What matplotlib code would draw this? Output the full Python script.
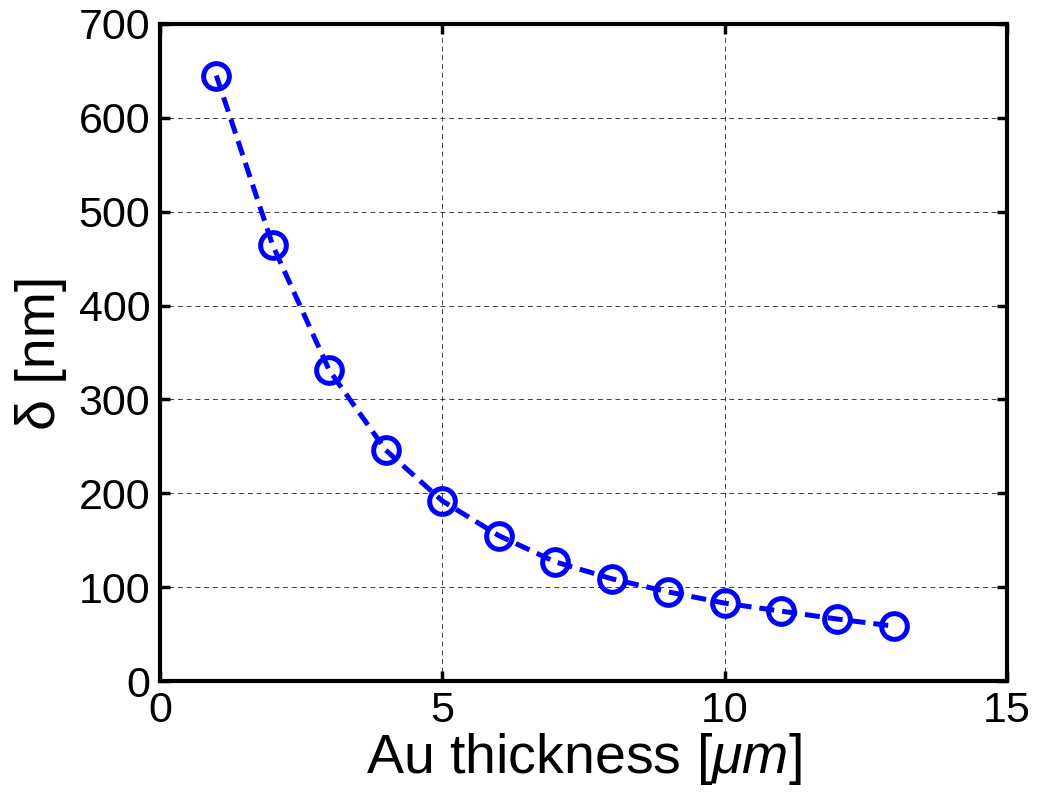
import matplotlib.pyplot as plt

plt.rcParams['font.family'] = ['Liberation Sans', 'DejaVu Sans']
plt.rcParams['mathtext.fontset'] = 'custom'
plt.rcParams['mathtext.it'] = 'Liberation Sans:italic'
plt.rcParams['mathtext.rm'] = 'Liberation Sans'

# Au thickness [um] vs delta [nm]
thickness = [1, 2, 3, 4, 5, 6, 7, 8, 9, 10, 11, 12, 13]
delta = [645, 464, 331, 246, 192, 155, 127, 109, 95, 83, 74.5, 66, 58.5]

x_ticks = [0, 5, 10, 15]
y_ticks = [0, 100, 200, 300, 400, 500, 600, 700]

fig = plt.figure(figsize=(10.38, 7.97), dpi=100)
ax = fig.add_axes([0.154, 0.1455, 0.816, 0.8245])

ax.plot(thickness, delta, color='blue', linestyle='--', linewidth=3.6,
        dashes=(3, 1.6), marker='o', markersize=18.5, markerfacecolor='none',
        markeredgewidth=3.6, markeredgecolor='blue')

ax.set_xlim(0, 15)
ax.set_ylim(0, 700)
ax.set_xticks(x_ticks)
ax.set_yticks(y_ticks)
ax.grid(True, color='black', linestyle=(0, (5, 4)), linewidth=0.7, alpha=0.75)

for sp in ax.spines.values():
    sp.set_linewidth(3)
ax.tick_params(direction='in', length=7, width=2.5, labelsize=31, pad=7,
               top=True, right=True)

ax.set_xlabel(r'Au thickness [$\mu m$]', fontsize=40, labelpad=0)
ax.set_ylabel('δ [nm]', fontsize=40, labelpad=8)

fig.savefig('out.png', dpi=100)
